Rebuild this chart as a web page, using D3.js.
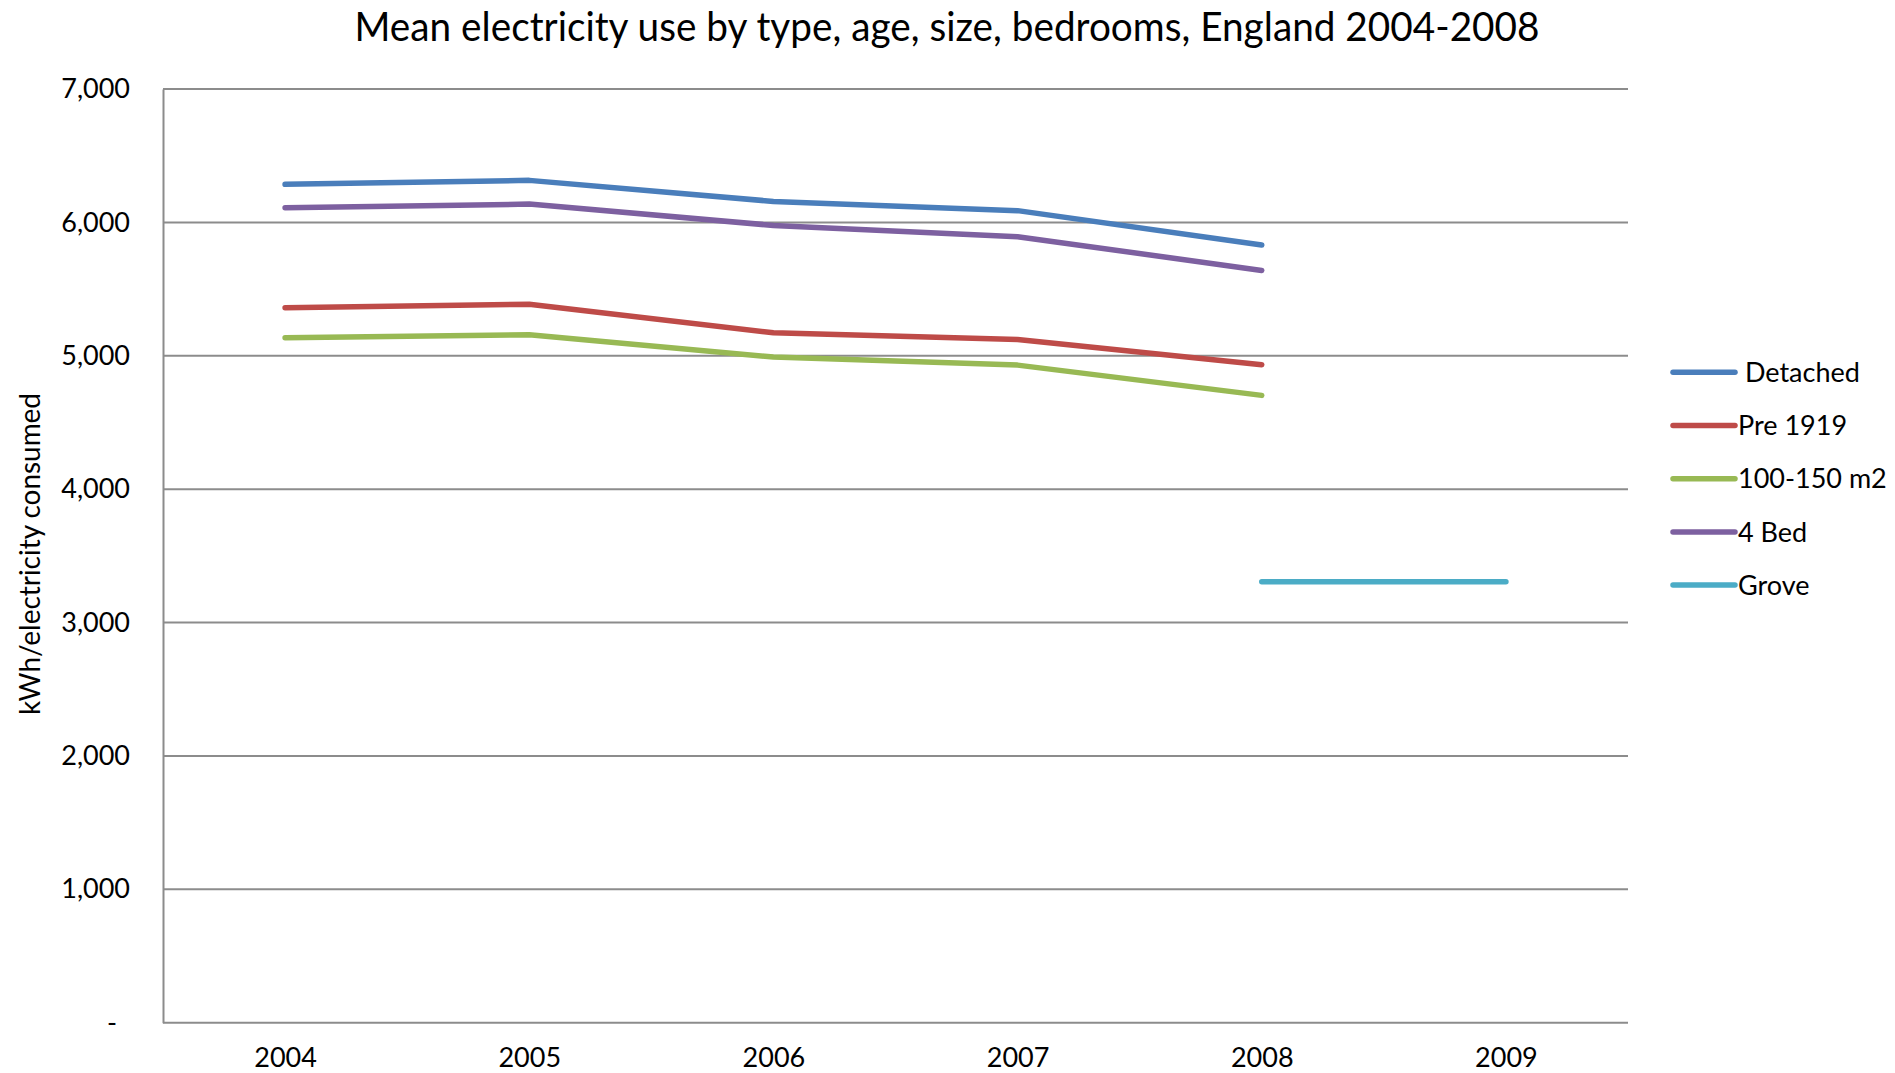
<!DOCTYPE html>
<html>
<head>
<meta charset="utf-8">
<script src="https://cdn.jsdelivr.net/npm/d3@7"></script>
<style>
  html, body { margin: 0; padding: 0; background: #ffffff; }
  svg { display: block; font-family: Lato, "Open Sans", sans-serif; }
</style>
</head>
<body>
<svg id="chart" width="1895" height="1073"></svg>
<script>
// Years on the category axis
const years = ["2004", "2005", "2006", "2007", "2008", "2009"];

// Mean electricity use (kWh) per dwelling group
const detached = [6285, 6315, 6157, 6088, 5830, null];
const pre1919  = [5360, 5387, 5172, 5122, 4933, null];
const size100  = [5135, 5157, 4990, 4930, 4703, null];
const bed4     = [6110, 6137, 5977, 5893, 5640, null];
const grove    = [null, null, null, null, 3305, 3305];

const seriesNames  = [" Detached", "Pre 1919", "100-150 m2", "4 Bed", "Grove"];
const seriesValues = [detached, pre1919, size100, bed4, grove];
const seriesColors = ["#4A7EBB", "#BE4B48", "#98B954", "#7D60A0", "#4BACC6"];

const yTicks = [0, 1000, 2000, 3000, 4000, 5000, 6000, 7000];

const titleText = "Mean electricity use by type, age, size, bedrooms, England 2004-2008";
const yTitle = "kWh/electricity consumed";

const svg = d3.select("#chart");
const plot = { left: 163, right: 1628, top: 89, bottom: 1022.7 };

const x = d3.scalePoint().domain(years).range([plot.left, plot.right]).padding(0.5);
const y = d3.scaleLinear().domain([0, 7000]).range([plot.bottom, plot.top]);

// Horizontal gridlines
svg.append("g")
  .selectAll("line")
  .data(yTicks.filter(d => d > 0))
  .join("line")
  .attr("x1", plot.left).attr("x2", plot.right)
  .attr("y1", d => y(d)).attr("y2", d => y(d))
  .attr("stroke", "#8c8c8c").attr("stroke-width", 2);

// Y axis
const fmt = d3.format(",");
const yAxis = svg.append("g")
  .attr("transform", `translate(${plot.left},0)`)
  .call(d3.axisLeft(y).tickValues(yTicks).tickSize(0).tickPadding(33)
    .tickFormat(d => d === 0 ? "-" : fmt(d)));
yAxis.select(".domain").attr("stroke", "#8c8c8c").attr("stroke-width", 2);
yAxis.selectAll("text")
  .attr("font-family", "Lato, sans-serif")
  .attr("font-size", 27).attr("fill", "#000")
  .attr("dx", d => d === 0 ? -13 : 0);

// X axis
const xAxis = svg.append("g")
  .attr("transform", `translate(0,${plot.bottom})`)
  .call(d3.axisBottom(x).tickSize(0).tickPadding(25));
xAxis.select(".domain").attr("stroke", "#8c8c8c").attr("stroke-width", 2)
  .attr("d", `M${plot.left},0H${plot.right}`);
xAxis.selectAll("text")
  .attr("font-family", "Lato, sans-serif")
  .attr("font-size", 27).attr("fill", "#000");

// Series lines
const line = d3.line()
  .defined(d => d.v !== null)
  .x(d => x(d.year))
  .y(d => y(d.v));

svg.append("g")
  .selectAll("path")
  .data(seriesValues.map((vals, i) => ({ i, pts: vals.map((v, j) => ({ year: years[j], v })) })))
  .join("path")
  .attr("d", s => line(s.pts))
  .attr("fill", "none")
  .attr("stroke", s => seriesColors[s.i])
  .attr("stroke-width", 5.5)
  .attr("stroke-linecap", "round")
  .attr("stroke-linejoin", "round");

// Title
svg.append("text")
  .attr("x", 947).attr("y", 41)
  .attr("text-anchor", "middle")
  .attr("font-size", 41)
  .attr("textLength", 1185)
  .attr("lengthAdjust", "spacingAndGlyphs")
  .attr("fill", "#000")
  .text(titleText);

// Y axis title
svg.append("text")
  .attr("transform", "translate(40,554) rotate(-90)")
  .attr("text-anchor", "middle")
  .attr("font-size", 28)
  .attr("textLength", 322)
  .attr("lengthAdjust", "spacingAndGlyphs")
  .attr("fill", "#000")
  .text(yTitle);

// Legend
const legend = svg.append("g");
const legendRows = legend.selectAll("g")
  .data(seriesNames.map((n, i) => ({ n, i })))
  .join("g")
  .attr("transform", d => `translate(1673,${372.3 + d.i * 53.2})`);
legendRows.append("line")
  .attr("x1", 0).attr("x2", 62)
  .attr("stroke", d => seriesColors[d.i])
  .attr("stroke-width", 5.5)
  .attr("stroke-linecap", "round");
legendRows.append("text")
  .attr("x", 65).attr("dy", "0.36em")
  .attr("font-size", 27)
  .attr("fill", "#000")
  .style("white-space", "pre")
  .text(d => d.n);
</script>
</body>
</html>
